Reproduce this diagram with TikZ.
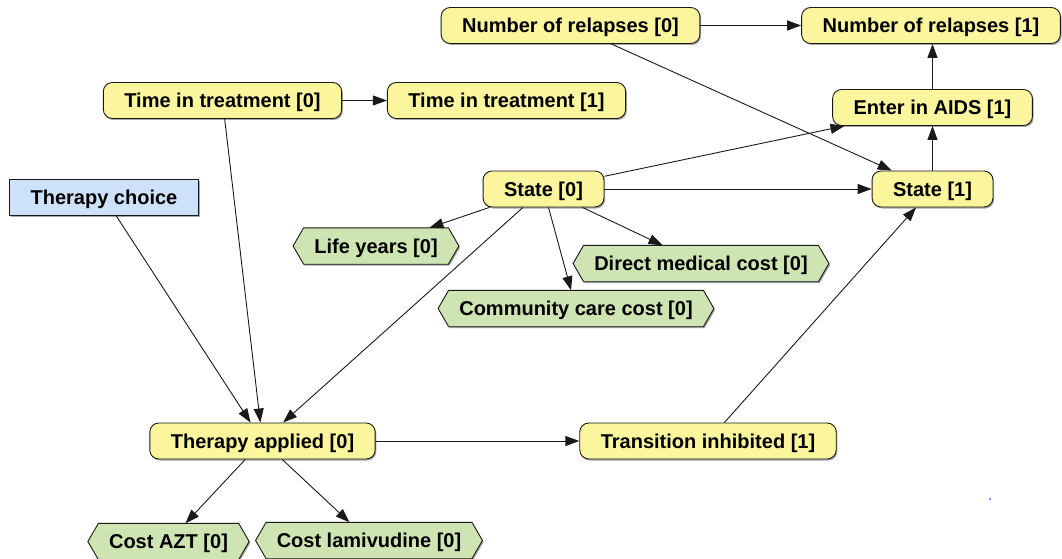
\documentclass[tikz,border=0pt]{standalone}
\usepackage{fontspec}
\setmainfont{Liberation Sans}
\usetikzlibrary{arrows.meta,shadows,backgrounds}

\definecolor{chance}{RGB}{251,246,158}
\definecolor{utility}{RGB}{206,228,178}
\definecolor{decision}{RGB}{205,225,250}
\definecolor{edgeline}{RGB}{25,25,25}

% hexagonal outline around a (borderless) rectangular node, offset by (#2,#3)
\newcommand\hexagonpath[3]{%
  ([shift={(#2,#3)}]#1.west) -- ([shift={(10.5+#2,#3)}]#1.north west)
  -- ([shift={(-10.5+#2,#3)}]#1.north east) -- ([shift={(#2,#3)}]#1.east)
  -- ([shift={(-10.5+#2,#3)}]#1.south east) -- ([shift={(10.5+#2,#3)}]#1.south west) -- cycle}

\begin{document}
\begin{tikzpicture}[x=1pt,y=-1pt,
  lbl/.style={font=\fontsize{20}{24}\selectfont\bfseries, text=black,
    text height=18pt, text depth=3.7pt, inner ysep=0pt,
    minimum height=36pt, inner xsep=21pt},
  boxshadow/.style={drop shadow={shadow xshift=1.2pt, shadow yshift=-1.5pt, fill=black, opacity=0.35}},
  chancebox/.style={lbl, draw=edgeline, line width=0.9pt, fill=chance,
    rounded corners=9pt, boxshadow},
  decisionbox/.style={lbl, draw=edgeline, line width=0.9pt, fill=decision, boxshadow},
  utilitybox/.style={lbl},
  hexfill/.style={draw=edgeline, line width=0.9pt, fill=utility},
  link/.style={draw=edgeline, line width=0.9pt, -{Triangle[length=14pt,width=10pt]}}
]
\useasboundingbox (0,0) rectangle (1062,559);

% chance nodes
\node[chancebox] (nr0) at (570.5,25.5) {Number of relapses [0]};
\node[chancebox] (nr1) at (931,25.5)   {Number of relapses [1]};
\node[chancebox] (tt0) at (222.5,100.5) {Time in treatment [0]};
\node[chancebox] (tt1) at (506.5,100.5) {Time in treatment [1]};
\node[chancebox] (aids) at (932.5,107.5) {Enter in AIDS [1]};
\node[chancebox] (s0) at (543.5,189) {State [0]};
\node[chancebox] (s1) at (932.5,189) {State [1]};
\node[chancebox] (ta) at (262.5,441) {Therapy applied [0]};
\node[chancebox] (ti) at (708,441)   {Transition inhibited [1]};

% decision node
\node[decisionbox] (tc) at (104,197) {Therapy choice};

% utility nodes
\node[utilitybox] (ly)  at (376,246)   {Life years [0]};
\node[utilitybox] (dmc) at (701,263.5) {Direct medical cost [0]};
\node[utilitybox] (ccc) at (576,308.5) {Community care cost [0]};
\node[utilitybox] (azt) at (168.5,541.5) {Cost AZT [0]};
\node[utilitybox] (lam) at (369,540.5) {Cost lamivudine [0]};

\begin{scope}[on background layer]
  \foreach \n in {ly,dmc,ccc,azt,lam}{
    \fill[black,opacity=0.35] \hexagonpath{\n}{1.2}{1.5};
    \path[hexfill] \hexagonpath{\n}{0}{0};
  }
\end{scope}

% links
\draw[link] (nr0) -- (nr1);
\draw[link] (nr0) -- (s1);
\draw[link] (tt0) -- (tt1);
\draw[link] (tt0) -- (ta);
\draw[link] (tc) -- (ta);
\draw[link] (s0) -- (aids);
\draw[link] (s0) -- (s1);
\draw[link] (s1) -- (aids);
\draw[link] (aids.north) -- (aids.north |- nr1.south);
\draw[link] (s0) -- (ly);
\draw[link] (s0) -- (dmc);
\draw[link] (s0) -- (ccc);
\draw[link] (s0) -- (ta);
\draw[link] (ta) -- (ti);
\draw[link] (ti) -- (s1);
\draw[link] (ta) -- (azt);
\draw[link] (ta) -- (lam);

% stray marker
\fill[blue] (990,499) circle (0.9pt);
\end{tikzpicture}
\end{document}
